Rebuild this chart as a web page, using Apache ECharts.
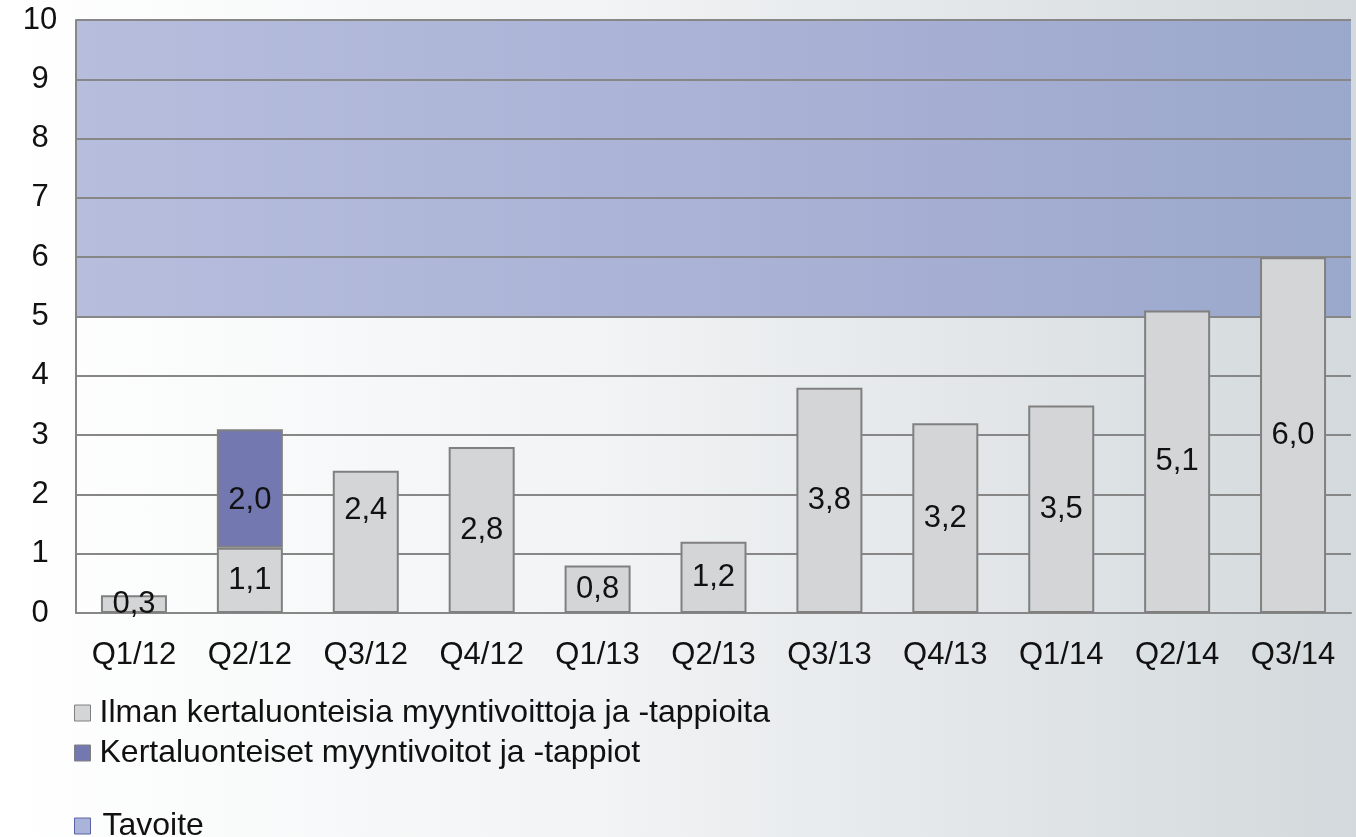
<!DOCTYPE html>
<html>
<head>
<meta charset="utf-8">
<script src="https://cdn.jsdelivr.net/npm/echarts@6/dist/echarts.min.js"></script>
<style>
  html, body { margin: 0; padding: 0; }
  #chart {
    width: 1356px;
    height: 837px;
    background: linear-gradient(90deg, #ffffff 0%, #f1f3f4 45%, #d3d9dc 100%);
  }
</style>
</head>
<body>
<div id="chart"></div>
<script>
const categories = ['Q1/12', 'Q2/12', 'Q3/12', 'Q4/12', 'Q1/13', 'Q2/13', 'Q3/13', 'Q4/13', 'Q1/14', 'Q2/14', 'Q3/14'];
const ilmanValues = [0.3, 1.1, 2.4, 2.8, 0.8, 1.2, 3.8, 3.2, 3.5, 5.1, 6.0];
const kertaValues = [null, 2.0, null, null, null, null, null, null, null, null, null];
const targetRange = [5, 10];
const yTicks = [0, 1, 2, 3, 4, 5, 6, 7, 8, 9, 10];

// a couple of labels were moved by hand in the original
const ilmanNudge = [0, 0, -31, 0, 0, 0, 0, 0, 0, 0, 0];
const kertaNudge = [0, 12, 0, 0, 0, 0, 0, 0, 0, 0, 0];

const fmt = (p) => p.value == null ? '' : p.value.toFixed(1).replace('.', ',');
const font = 'Liberation Sans, Arial, sans-serif';
const lineColor = '#878787';
const fs = 31;

const withNudge = (vals, nudge) => vals.map((v, i) => ({
  value: v,
  label: { offset: [0, nudge[i]] }
}));

const chart = echarts.init(document.getElementById('chart'));

chart.setOption({
  backgroundColor: 'transparent',
  animation: false,
  textStyle: { fontFamily: font },
  grid: { left: 76, right: 5, top: 20, bottom: 224 },
  legend: [
    {
      orient: 'vertical',
      left: 69,
      top: 692,
      itemWidth: 16,
      itemHeight: 16,
      itemGap: 8,
      icon: 'rect',
      textStyle: { fontSize: 32, color: '#111', fontFamily: font, padding: [0, 0, 0, 4] },
      data: [
        { name: 'Ilman kertaluonteisia myyntivoittoja ja -tappioita', itemStyle: { color: '#d4d5d7', borderColor: '#808080', borderWidth: 1 } },
        { name: 'Kertaluonteiset myyntivoitot ja -tappiot', itemStyle: { color: '#7378b0', borderColor: '#808080', borderWidth: 1 } }
      ]
    },
    {
      orient: 'vertical',
      left: 69,
      top: 805,
      itemWidth: 16,
      itemHeight: 16,
      icon: 'rect',
      textStyle: { fontSize: 32, color: '#111', fontFamily: font, padding: [0, 0, 0, 7] },
      data: [
        { name: 'Tavoite', itemStyle: { color: '#aab3d8', borderColor: '#5a63a8', borderWidth: 1 } }
      ]
    }
  ],
  xAxis: [
    {
      type: 'category',
      data: categories,
      axisLine: { show: true, lineStyle: { color: lineColor, width: 2 } },
      axisTick: { show: false },
      axisLabel: { fontSize: fs, color: '#111', margin: 27, fontFamily: font }
    },
    {
      type: 'category',
      data: ['t'],
      show: false
    }
  ],
  yAxis: {
    type: 'value',
    min: 0,
    max: 10,
    interval: 1,
    axisLine: { show: true, lineStyle: { color: lineColor, width: 2 } },
    axisTick: { show: false },
    axisLabel: {
      fontSize: fs, color: '#111', margin: 36, align: 'center', fontFamily: font,
      formatter: (v) => yTicks.includes(v) ? String(v) : ''
    },
    splitLine: { show: true, lineStyle: { color: lineColor, width: 2 } }
  },
  series: [
    {
      name: 'base',
      type: 'bar',
      xAxisIndex: 1,
      stack: 'band',
      z: -1,
      barWidth: '100%',
      silent: true,
      itemStyle: { color: 'transparent' },
      data: [targetRange[0]]
    },
    {
      name: 'Tavoite',
      type: 'bar',
      xAxisIndex: 1,
      stack: 'band',
      z: -1,
      barWidth: '100%',
      silent: true,
      itemStyle: {
        color: new echarts.graphic.LinearGradient(0, 0, 1, 0, [
          { offset: 0, color: '#b6bddd' },
          { offset: 0.6, color: '#a8b0d4' },
          { offset: 1, color: '#9aa8cb' }
        ])
      },
      data: [targetRange[1] - targetRange[0]]
    },
    {
      name: 'Ilman kertaluonteisia myyntivoittoja ja -tappioita',
      type: 'bar',
      stack: 'main',
      barWidth: 66,
      itemStyle: { color: '#d4d5d7', borderColor: '#808080', borderWidth: 2 },
      label: {
        show: true, position: 'inside', fontSize: fs, color: '#111', fontFamily: font,
        formatter: fmt
      },
      data: withNudge(ilmanValues, ilmanNudge)
    },
    {
      name: 'Kertaluonteiset myyntivoitot ja -tappiot',
      type: 'bar',
      stack: 'main',
      barWidth: 66,
      itemStyle: { color: '#7378b0', borderColor: '#808080', borderWidth: 2 },
      label: {
        show: true, position: 'inside', fontSize: fs, color: '#111', fontFamily: font,
        formatter: fmt
      },
      data: withNudge(kertaValues, kertaNudge)
    }
  ]
});
</script>
</body>
</html>
